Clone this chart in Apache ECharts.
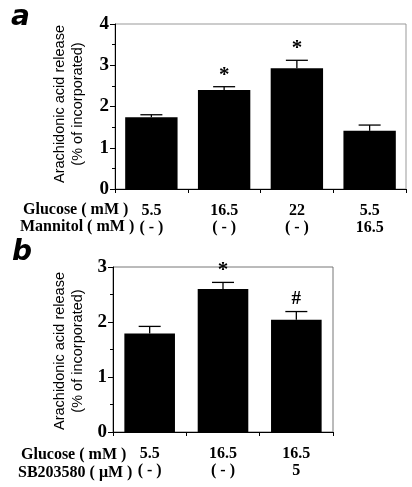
<!DOCTYPE html>
<html><head><meta charset="utf-8">
<script src="https://cdn.jsdelivr.net/npm/echarts@6/dist/echarts.min.js"></script>
<style>html,body{margin:0;padding:0;background:#fff}#c{width:412px;height:487px}</style>
</head><body><div id="c"></div>
<script>
// Panel a
const glucoseA = ['5.5', '16.5', '22', '5.5'];
const mannitolA = ['( - )', '( - )', '( - )', '16.5'];
const meanA = [1.74, 2.40, 2.93, 1.41];
const errTopA = [1.80, 2.48, 3.12, 1.55];
const sigA = ['', '*', '*', ''];
const yTicksA = [0, 1, 2, 3, 4];
// Panel b
const glucoseB = ['5.5', '16.5', '16.5'];
const sbB = ['( - )', '( - )', '5'];
const meanB = [1.79, 2.60, 2.04];
const errTopB = [1.92, 2.72, 2.19];
const sigB = ['', '*', '#'];
const yTicksB = [0, 1, 2, 3];

const serif = 'Liberation Serif';
const chart = echarts.init(document.getElementById('c'), null, {renderer: 'canvas'});

function errSeries(xi, yi, means, tops, sigs) {
  return {
    type: 'custom', xAxisIndex: xi, yAxisIndex: yi, z: 5,
    data: means.map((m, i) => [i, m, tops[i]]),
    renderItem: function (params, api) {
      const i = api.value(0);
      const p0 = api.coord([i, api.value(1)]);
      const p1 = api.coord([i, api.value(2)]);
      const hw = 11;
      const children = [
        {type: 'line', shape: {x1: p0[0], y1: p0[1], x2: p1[0], y2: p1[1]}, style: {stroke: '#000', lineWidth: 1.3}},
        {type: 'line', shape: {x1: p1[0] - hw, y1: p1[1], x2: p1[0] + hw, y2: p1[1]}, style: {stroke: '#000', lineWidth: 1.3}}
      ];
      const s = sigs[i];
      if (s === '*') {
        children.push({type: 'text', x: p1[0], y: p1[1] - 1,
          style: {text: s, font: 'bold 21px ' + serif, fill: '#000', align: 'center', verticalAlign: 'bottom'}});
      } else if (s) {
        children.push({type: 'text', x: p1[0], y: p1[1] - 3,
          style: {text: s, font: 'bold 19px ' + serif, fill: '#000', align: 'center', verticalAlign: 'bottom'}});
      }
      return {type: 'group', children: children};
    }
  };
}

function yAxisCfg(gi, ticks) {
  return {
    type: 'value', gridIndex: gi, min: ticks[0], max: ticks[ticks.length - 1], interval: 1,
    axisLine: {show: true, lineStyle: {color: '#000', width: 1}},
    axisTick: {show: true, length: 5, lineStyle: {color: '#000'}},
    minorTick: {show: true, splitNumber: 2, length: 3, lineStyle: {color: '#000'}},
    splitLine: {show: false},
    axisLabel: {color: '#000', fontFamily: serif, fontWeight: 'bold', fontSize: 19, margin: 6}
  };
}

function xAxisCfg(gi, row1, row2) {
  return {
    type: 'category', gridIndex: gi, data: row1.map((_, i) => i),
    axisLine: {show: true, lineStyle: {color: '#000', width: 1}},
    axisTick: {show: true, length: 4, lineStyle: {color: '#000'}},
    axisLabel: {
      color: '#000', fontFamily: serif, fontWeight: 'bold', fontSize: 16, lineHeight: 17, margin: 13,
      formatter: (v, i) => row1[i] + '\n' + row2[i]
    }
  };
}

const titleStyle = {fill: '#000', font: '14.5px Liberation Sans', align: 'center', verticalAlign: 'middle'};
const rowStyle = {fill: '#000', font: 'bold 16px ' + serif, align: 'left', verticalAlign: 'middle'};

chart.setOption({
  animation: false,
  grid: [
    {left: 115, right: 6, top: 24, height: 165, show: true, borderColor: '#999', borderWidth: 1},
    {left: 113, right: 79, top: 267, height: 165, show: true, borderColor: '#777', borderWidth: 1}
  ],
  xAxis: [xAxisCfg(0, glucoseA, mannitolA), xAxisCfg(1, glucoseB, sbB)],
  yAxis: [yAxisCfg(0, yTicksA), yAxisCfg(1, yTicksB)],
  series: [
    {type: 'bar', xAxisIndex: 0, yAxisIndex: 0, data: meanA, barCategoryGap: '28%', itemStyle: {color: '#000'}},
    errSeries(0, 0, meanA, errTopA, sigA),
    {type: 'bar', xAxisIndex: 1, yAxisIndex: 1, data: meanB, barCategoryGap: '31%', itemStyle: {color: '#000'}},
    errSeries(1, 1, meanB, errTopB, sigB)
  ],
  graphic: [
    {type: 'text', left: 11, top: 4, style: {text: 'a', font: 'italic bold 28px DejaVu Sans', fill: '#000'}},
    {type: 'text', left: 12, top: 239, style: {text: 'b', font: 'italic bold 28px DejaVu Sans', fill: '#000'}},
    {type: 'text', x: 60, y: 104, rotation: Math.PI / 2, style: Object.assign({text: 'Arachidonic acid release'}, titleStyle)},
    {type: 'text', x: 78, y: 104, rotation: Math.PI / 2, style: Object.assign({text: '(% of incorporated)'}, titleStyle)},
    {type: 'text', x: 60, y: 351, rotation: Math.PI / 2, style: Object.assign({text: 'Arachidonic acid release'}, titleStyle)},
    {type: 'text', x: 78, y: 351, rotation: Math.PI / 2, style: Object.assign({text: '(% of incorporated)'}, titleStyle)},
    {type: 'text', x: 23, y: 210, style: Object.assign({text: 'Glucose ( mM )'}, rowStyle)},
    {type: 'text', x: 20, y: 227, style: Object.assign({text: 'Mannitol ( mM )'}, rowStyle)},
    {type: 'text', x: 21, y: 455, style: Object.assign({text: 'Glucose ( mM )'}, rowStyle)},
    {type: 'text', x: 18, y: 473, style: Object.assign({text: 'SB203580 ( \u03bcM )'}, rowStyle)}
  ]
});
</script></body></html>
